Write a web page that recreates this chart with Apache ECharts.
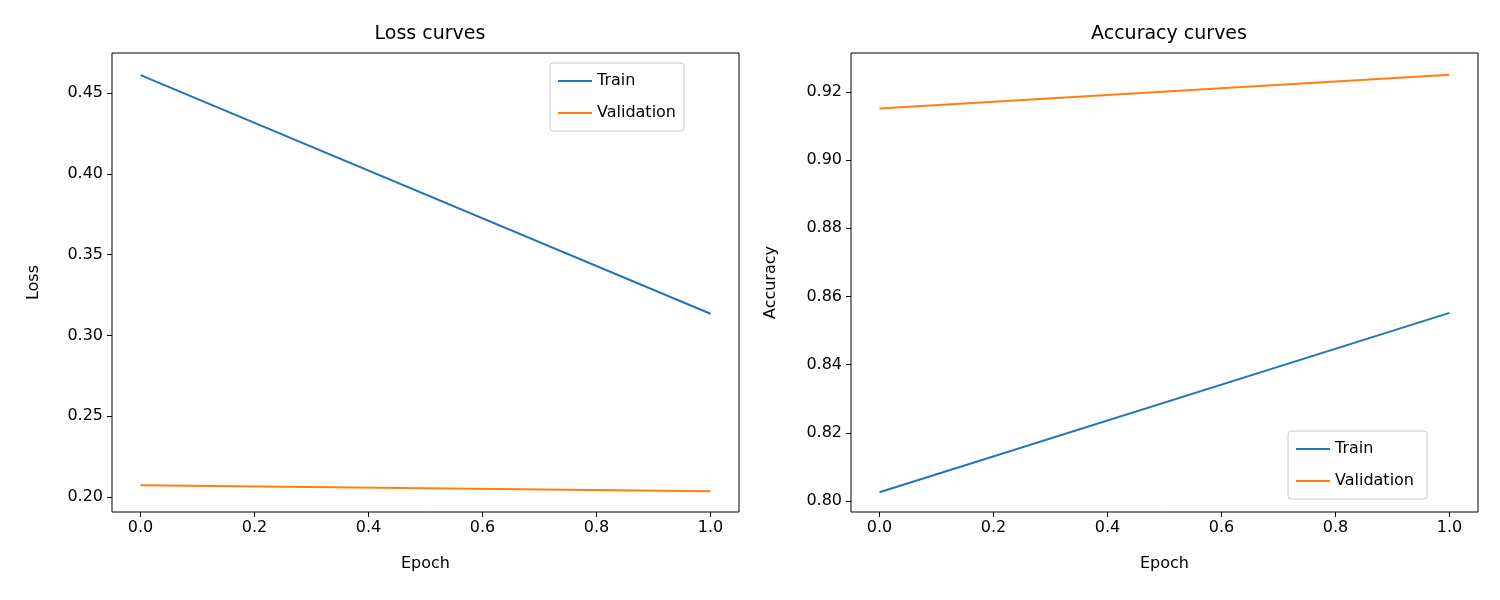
<!DOCTYPE html>
<html><head><meta charset="utf-8">
<script src="https://cdn.jsdelivr.net/npm/echarts@6/dist/echarts.min.js"></script>
<style>body{margin:0}#c{width:1500px;height:600px}</style>
</head><body><div id="c"></div>
<script>
var epochs = [0, 1];
var lossTrain = [0.4611, 0.3134];
var lossVal = [0.2073, 0.2036];
var accTrain = [0.8026, 0.8552];
var accVal = [0.9151, 0.9250];
var xTicks = [0, 0.2, 0.4, 0.6, 0.8, 1.0];
var lossTicks = [0.20, 0.25, 0.30, 0.35, 0.40, 0.45];
var accTicks = [0.80, 0.82, 0.84, 0.86, 0.88, 0.90, 0.92];

var font = 'DejaVu Sans';
var pair = function (a) { return epochs.map(function (e, i) { return [e, a[i]]; }); };

function xAxis(idx) {
  return {
    type: 'value', gridIndex: idx, min: -0.05, max: 1.05,
    name: 'Epoch', nameLocation: 'middle', nameGap: 44,
    nameTextStyle: { color: '#000', fontSize: 16, fontFamily: font },
    axisLine: { show: false, onZero: false }, splitLine: { show: false },
    axisTick: { show: true, length: 5, customValues: xTicks, lineStyle: { color: '#000' } },
    axisLabel: { customValues: xTicks, color: '#000', fontSize: 16, fontFamily: font, margin: 8,
      formatter: function (v) { return v.toFixed(1); } }
  };
}
function yAxis(idx, min, max, ticks, name, gap) {
  return {
    type: 'value', gridIndex: idx, min: min, max: max,
    name: name, nameLocation: 'middle', nameGap: gap,
    nameTextStyle: { color: '#000', fontSize: 16, fontFamily: font },
    axisLine: { show: false, onZero: false }, splitLine: { show: false },
    axisTick: { show: true, length: 5, customValues: ticks, lineStyle: { color: '#000' } },
    axisLabel: { customValues: ticks, color: '#000', fontSize: 16, fontFamily: font, margin: 9,
      formatter: function (v) { return v.toFixed(2); } }
  };
}
function line(name, data, color, xi) {
  return { name: name, type: 'line', xAxisIndex: xi, yAxisIndex: xi, data: data,
    showSymbol: false, lineStyle: { color: color, width: 2 }, itemStyle: { color: color } };
}
function legend(pos) {
  return Object.assign({
    orient: 'vertical', icon: 'rect', itemWidth: 34, itemHeight: 2, itemGap: 16,
    backgroundColor: '#fff', borderColor: '#ccc', borderWidth: 1, borderRadius: 3,
    padding: [10, 8, 10, 8],
    textStyle: { color: '#000', fontSize: 16, fontFamily: font }
  }, pos);
}

var chart = echarts.init(document.getElementById('c'));
chart.setOption({
  animation: false,
  title: [
    { text: 'Loss curves', left: 425, top: 20, textAlign: 'center', textStyle: { fontSize: 19, fontWeight: 'normal', fontFamily: font, color: '#000' } },
    { text: 'Accuracy curves', left: 1164, top: 20, textAlign: 'center', textStyle: { fontSize: 19, fontWeight: 'normal', fontFamily: font, color: '#000' } }
  ],
  grid: [
    { left: 112, top: 53, width: 627, height: 459, show: true, borderColor: '#000', borderWidth: 1 },
    { left: 851, top: 53, width: 627, height: 459, show: true, borderColor: '#000', borderWidth: 1 }
  ],
  xAxis: [xAxis(0), xAxis(1)],
  yAxis: [yAxis(0, 0.1907, 0.4748, lossTicks, 'Loss', 70), yAxis(1, 0.7968, 0.9314, accTicks, 'Accuracy', 72)],
  legend: [
    legend({ data: ['Train', 'Validation'], left: 550, top: 63 }),
    legend({ data: ['Train ', 'Validation '], left: 1288, top: 431 })
  ],
  series: [
    line('Train', pair(lossTrain), '#1f77b4', 0),
    line('Validation', pair(lossVal), '#ff7f0e', 0),
    line('Train ', pair(accTrain), '#1f77b4', 1),
    line('Validation ', pair(accVal), '#ff7f0e', 1)
  ]
});
</script></body></html>
